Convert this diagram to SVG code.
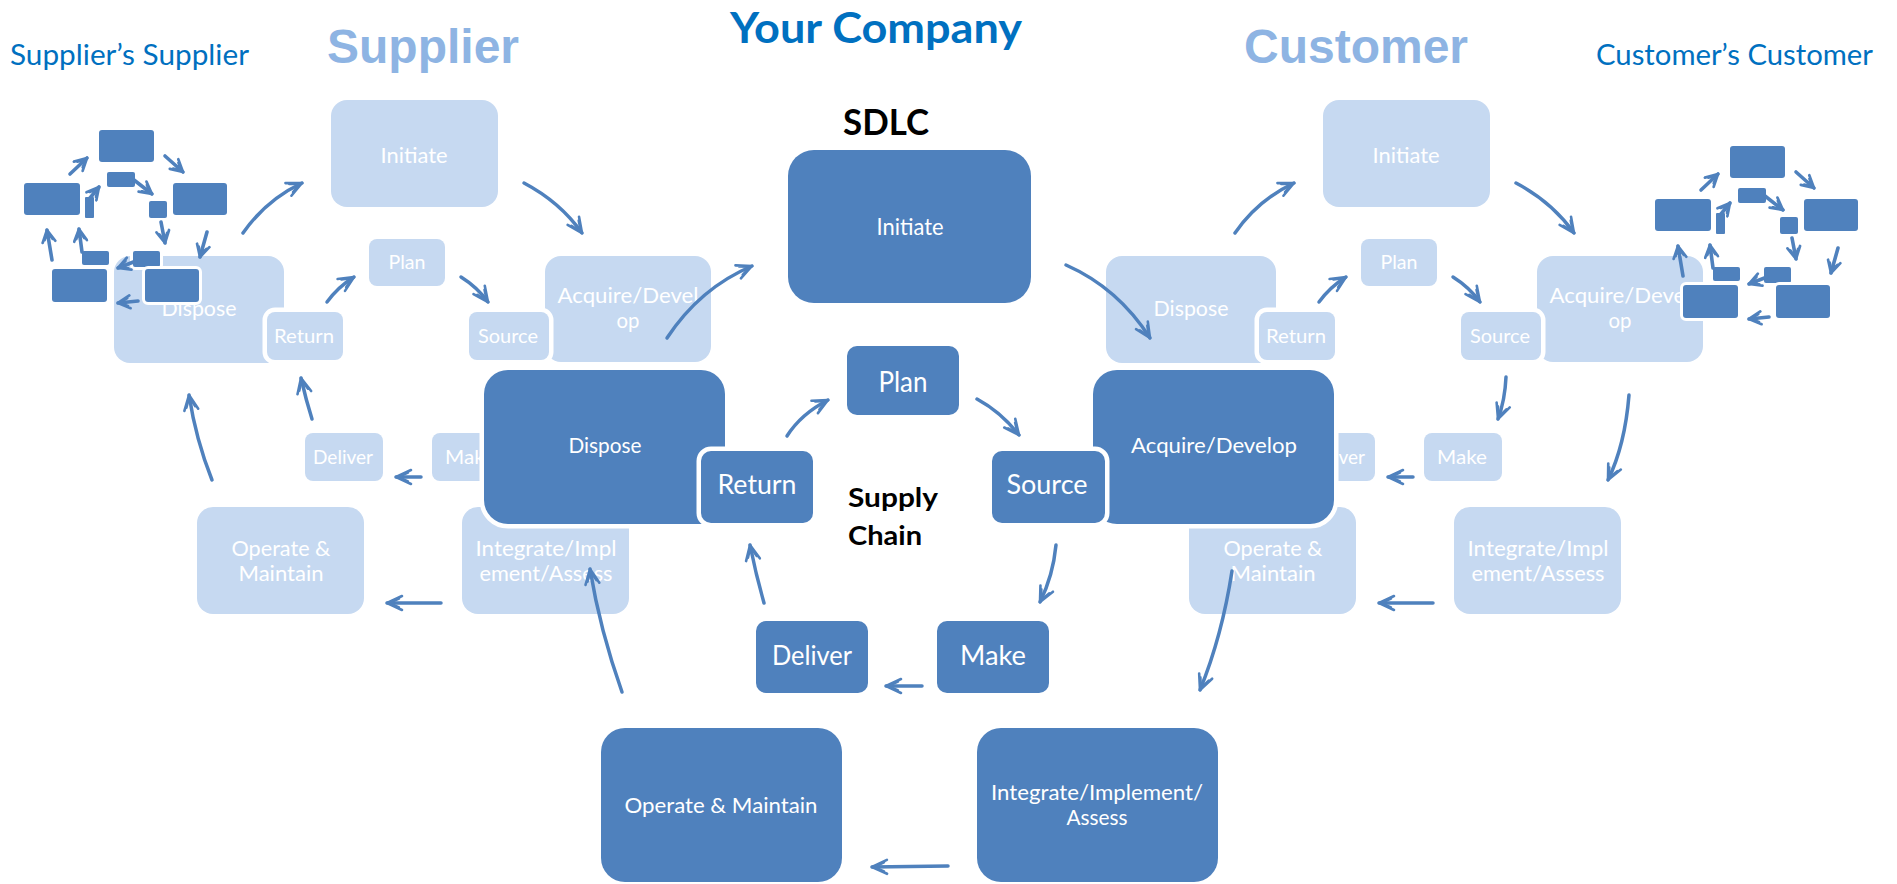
<svg xmlns="http://www.w3.org/2000/svg" xmlns:xlink="http://www.w3.org/1999/xlink" width="1897" height="884" viewBox="0 0 1897 884">
  <style>
    .node rect { stroke: #ffffff; stroke-width: 9; paint-order: stroke; }
    .dark rect { fill: #4F81BD; }
    .light rect { fill: #C6D9F1; }
    .lbl { font-family: Lato, "Open Sans", "Liberation Sans", sans-serif; fill: #ffffff; text-anchor: middle; }
    .conn path { fill: none; stroke: #4F81BD; stroke-width: 3.5; stroke-linecap: round; marker-end: url(#head); }
    .mini rect { fill: #4F81BD; stroke: #ffffff; stroke-width: 6; paint-order: stroke; }
    .mini path { fill: none; stroke: #4F81BD; stroke-width: 3.6; stroke-linecap: round; marker-end: url(#head-s); }
    .title-dark { font-family: Lato, "Open Sans", sans-serif; fill: #0070C0; }
    .title-light { font-family: "Liberation Sans", Arial, sans-serif; font-weight: 700; font-size: 48px; fill: #8EB4E3; }
    .heading { font-family: Lato, "Open Sans", sans-serif; font-weight: 700; fill: #000000; }
  </style>
  <defs>
    <marker id="head" viewBox="0 0 20 20" refX="18" refY="10" markerWidth="20" markerHeight="20" markerUnits="userSpaceOnUse" orient="auto">
      <path d="M3,3 L18,10 L3,17 M6,5.5 L16,10 L6,14.5" fill="none" stroke="#4F81BD" stroke-width="2.6" stroke-linejoin="round" stroke-linecap="round"/>
    </marker>
    <marker id="head-s" viewBox="0 0 20 20" refX="18" refY="10" markerWidth="16" markerHeight="16" markerUnits="userSpaceOnUse" orient="auto">
      <path d="M3,2 L18,10 L3,18 M6,5 L16,10 L6,15 M9,8 L15,10" fill="none" stroke="#4F81BD" stroke-width="3.4" stroke-linejoin="round" stroke-linecap="round"/>
    </marker>
    <!-- small flow network used for the outer partners -->
    <g id="mini-net" class="mini">
      <rect x="99" y="130" width="55" height="32" rx="3"/>
      <rect x="107" y="172" width="28" height="15" rx="2"/>
      <rect x="24" y="183" width="56" height="32" rx="3"/>
      <rect x="85" y="197" width="9" height="21" rx="1"/>
      <rect x="173" y="183" width="54" height="32" rx="3"/>
      <rect x="149" y="201" width="18" height="17" rx="2"/>
      <rect x="82" y="251" width="27" height="14" rx="2"/>
      <rect x="133" y="251" width="27" height="16" rx="2"/>
      <rect x="52" y="269" width="55" height="33" rx="3"/>
      <rect x="145" y="269" width="54" height="33" rx="3"/>
      <path d="M70,174 L87,158"/>
      <path d="M165,156 L183,172"/>
      <path d="M90,198 L99,187"/>
      <path d="M134,180 L152,194"/>
      <path d="M161,222 L165,243"/>
      <path d="M207,232 L200,257"/>
      <path d="M52,260 L47,230"/>
      <path d="M82,252 L79,229"/>
      <path d="M136,261 L118,268"/>
      <path d="M138,301 L118,303"/>
    </g>
  </defs>

  <rect width="1897" height="884" fill="#ffffff"/>

  <!-- titles -->
  <text class="title-dark" x="10" y="65" font-size="28" textLength="239" lengthAdjust="spacingAndGlyphs">Supplier’s Supplier</text>
  <text class="title-light" x="327" y="63">Supplier</text>
  <text class="title-dark" x="730" y="43" font-size="42" font-weight="700" textLength="292" lengthAdjust="spacingAndGlyphs">Your Company</text>
  <text class="title-light" x="1244" y="63">Customer</text>
  <text class="title-dark" x="1596" y="65" font-size="28" textLength="277" lengthAdjust="spacingAndGlyphs">Customer’s Customer</text>
  <text class="heading" x="843" y="135" font-size="37" textLength="86" lengthAdjust="spacingAndGlyphs">SDLC</text>

  <!-- supplier cycle -->
  <g id="sup-initiate" class="node light"><rect x="331" y="100" width="167" height="107" rx="16"/><text class="lbl" x="414" y="163" font-size="22" textLength="67" lengthAdjust="spacingAndGlyphs">Initiate</text></g>
  <g id="sup-plan" class="node light"><rect x="369" y="239" width="76" height="47" rx="8"/><text class="lbl" x="407" y="269" font-size="19" textLength="37" lengthAdjust="spacingAndGlyphs">Plan</text></g>
  <g id="sup-dispose" class="node light"><rect x="114" y="256" width="170" height="107" rx="16"/><text class="lbl" x="199" y="316" font-size="21" textLength="75" lengthAdjust="spacingAndGlyphs">Dispose</text></g>
  <g id="sup-return" class="node light"><rect x="267" y="312" width="76" height="48" rx="8"/><text class="lbl" x="304" y="343" font-size="20" textLength="60" lengthAdjust="spacingAndGlyphs">Return</text></g>
  <g id="sup-acquire" class="node light"><rect x="545" y="256" width="166" height="106" rx="16"/><text class="lbl" x="628" y="303" font-size="21" textLength="141" lengthAdjust="spacingAndGlyphs">Acquire/Devel</text><text class="lbl" x="628" y="328" font-size="21" textLength="23" lengthAdjust="spacingAndGlyphs">op</text></g>
  <g id="sup-source" class="node light"><rect x="469" y="312" width="80" height="48" rx="8"/><text class="lbl" x="508" y="343" font-size="20" textLength="60" lengthAdjust="spacingAndGlyphs">Source</text></g>
  <g id="sup-deliver" class="node light"><rect x="305" y="433" width="78" height="48" rx="8"/><text class="lbl" x="343" y="464" font-size="20" textLength="60" lengthAdjust="spacingAndGlyphs">Deliver</text></g>
  <g id="sup-make" class="node light"><rect x="432" y="433" width="78" height="48" rx="8"/><text class="lbl" x="470" y="464" font-size="20" textLength="50" lengthAdjust="spacingAndGlyphs">Make</text></g>
  <g id="sup-operate" class="node light"><rect x="197" y="507" width="167" height="107" rx="16"/><text class="lbl" x="281" y="556" font-size="21" textLength="99" lengthAdjust="spacingAndGlyphs">Operate &amp;</text><text class="lbl" x="281" y="581" font-size="21" textLength="85" lengthAdjust="spacingAndGlyphs">Maintain</text></g>
  <g id="sup-integrate" class="node light"><rect x="462" y="507" width="167" height="107" rx="16"/><text class="lbl" x="546" y="556" font-size="21" textLength="141" lengthAdjust="spacingAndGlyphs">Integrate/Impl</text><text class="lbl" x="546" y="581" font-size="21" textLength="133" lengthAdjust="spacingAndGlyphs">ement/Assess</text></g>

  <!-- customer cycle -->
  <g id="cus-initiate" class="node light"><rect x="1323" y="100" width="167" height="107" rx="16"/><text class="lbl" x="1406" y="163" font-size="22" textLength="67" lengthAdjust="spacingAndGlyphs">Initiate</text></g>
  <g id="cus-plan" class="node light"><rect x="1361" y="239" width="76" height="47" rx="8"/><text class="lbl" x="1399" y="269" font-size="19" textLength="37" lengthAdjust="spacingAndGlyphs">Plan</text></g>
  <g id="cus-dispose" class="node light"><rect x="1106" y="256" width="170" height="107" rx="16"/><text class="lbl" x="1191" y="316" font-size="21" textLength="75" lengthAdjust="spacingAndGlyphs">Dispose</text></g>
  <g id="cus-return" class="node light"><rect x="1259" y="312" width="76" height="48" rx="8"/><text class="lbl" x="1296" y="343" font-size="20" textLength="60" lengthAdjust="spacingAndGlyphs">Return</text></g>
  <g id="cus-acquire" class="node light"><rect x="1537" y="256" width="166" height="106" rx="16"/><text class="lbl" x="1620" y="303" font-size="21" textLength="141" lengthAdjust="spacingAndGlyphs">Acquire/Devel</text><text class="lbl" x="1620" y="328" font-size="21" textLength="23" lengthAdjust="spacingAndGlyphs">op</text></g>
  <g id="cus-source" class="node light"><rect x="1461" y="312" width="80" height="48" rx="8"/><text class="lbl" x="1500" y="343" font-size="20" textLength="60" lengthAdjust="spacingAndGlyphs">Source</text></g>
  <g id="cus-deliver" class="node light"><rect x="1297" y="433" width="78" height="48" rx="8"/><text class="lbl" x="1335" y="464" font-size="20" textLength="60" lengthAdjust="spacingAndGlyphs">Deliver</text></g>
  <g id="cus-make" class="node light"><rect x="1424" y="433" width="78" height="48" rx="8"/><text class="lbl" x="1462" y="464" font-size="20" textLength="50" lengthAdjust="spacingAndGlyphs">Make</text></g>
  <g id="cus-operate" class="node light"><rect x="1189" y="507" width="167" height="107" rx="16"/><text class="lbl" x="1273" y="556" font-size="21" textLength="99" lengthAdjust="spacingAndGlyphs">Operate &amp;</text><text class="lbl" x="1273" y="581" font-size="21" textLength="85" lengthAdjust="spacingAndGlyphs">Maintain</text></g>
  <g id="cus-integrate" class="node light"><rect x="1454" y="507" width="167" height="107" rx="16"/><text class="lbl" x="1538" y="556" font-size="21" textLength="141" lengthAdjust="spacingAndGlyphs">Integrate/Impl</text><text class="lbl" x="1538" y="581" font-size="21" textLength="133" lengthAdjust="spacingAndGlyphs">ement/Assess</text></g>

  <!-- outer partner networks -->
  <use id="suppliers-supplier-net" xlink:href="#mini-net" href="#mini-net"/>
  <use id="customers-customer-net" xlink:href="#mini-net" href="#mini-net" transform="translate(1631,16)"/>

  <!-- company cycle -->
  <g id="co-initiate" class="node dark"><rect x="788" y="150" width="243" height="153" rx="26"/><text class="lbl" x="910" y="235" font-size="23" textLength="67" lengthAdjust="spacingAndGlyphs">Initiate</text></g>
  <g id="co-plan" class="node dark"><rect x="847" y="346" width="112" height="69" rx="10"/><text class="lbl" x="903" y="392" font-size="28" textLength="49" lengthAdjust="spacingAndGlyphs">Plan</text></g>
  <g id="co-dispose" class="node dark"><rect x="484" y="370" width="241" height="154" rx="24"/><text class="lbl" x="605" y="453" font-size="21" textLength="73" lengthAdjust="spacingAndGlyphs">Dispose</text></g>
  <g id="co-acquire" class="node dark"><rect x="1093" y="370" width="241" height="154" rx="24"/><text class="lbl" x="1214" y="453" font-size="21" textLength="166" lengthAdjust="spacingAndGlyphs">Acquire/Develop</text></g>
  <g id="co-return" class="node dark"><rect x="701" y="451" width="112" height="72" rx="10"/><text class="lbl" x="757" y="494" font-size="27" textLength="79" lengthAdjust="spacingAndGlyphs">Return</text></g>
  <g id="co-source" class="node dark"><rect x="992" y="451" width="113" height="72" rx="10"/><text class="lbl" x="1047" y="494" font-size="27" textLength="81" lengthAdjust="spacingAndGlyphs">Source</text></g>
  <g id="co-deliver" class="node dark"><rect x="756" y="621" width="112" height="72" rx="10"/><text class="lbl" x="812" y="665" font-size="26" textLength="80" lengthAdjust="spacingAndGlyphs">Deliver</text></g>
  <g id="co-make" class="node dark"><rect x="937" y="621" width="112" height="72" rx="10"/><text class="lbl" x="993" y="665" font-size="26" textLength="66" lengthAdjust="spacingAndGlyphs">Make</text></g>
  <g id="co-operate" class="node dark"><rect x="601" y="728" width="241" height="154" rx="24"/><text class="lbl" x="721" y="813" font-size="21" textLength="193" lengthAdjust="spacingAndGlyphs">Operate &amp; Maintain</text></g>
  <g id="co-integrate" class="node dark"><rect x="977" y="728" width="241" height="154" rx="24"/><text class="lbl" x="1097" y="800" font-size="22" textLength="212" lengthAdjust="spacingAndGlyphs">Integrate/Implement/</text><text class="lbl" x="1097" y="825" font-size="22" textLength="61" lengthAdjust="spacingAndGlyphs">Assess</text></g>

  <text class="heading" x="848" y="507" font-size="27" textLength="90" lengthAdjust="spacingAndGlyphs">Supply</text>
  <text class="heading" x="848" y="545" font-size="27" textLength="74" lengthAdjust="spacingAndGlyphs">Chain</text>

  <!-- connectors -->
  <g id="connectors" class="conn">
    <!-- company -->
    <path d="M667,338 Q700,288 752,266"/>
    <path d="M1066,265 Q1118,288 1150,338"/>
    <path d="M787,436 Q801,414 828,400"/>
    <path d="M977,399 Q1001,412 1019,435"/>
    <path d="M1056,545 Q1053,576 1040,602"/>
    <path d="M922,686 L886,686"/>
    <path d="M764,603 Q756,575 750,545"/>
    <path d="M948,866 L872,867"/>
    <path d="M622,692 Q600,630 590,569"/>
    <path d="M1232,571 Q1222,636 1200,690"/>
    <!-- supplier -->
    <path d="M243,233 Q266,200 302,183"/>
    <path d="M524,183 Q560,202 582,233"/>
    <path d="M327,302 Q338,287 354,277"/>
    <path d="M461,277 Q477,287 488,302"/>
    <path d="M312,419 Q306,400 301,378"/>
    <path d="M421,477 L396,477"/>
    <path d="M441,603 L387,603"/>
    <path d="M212,480 Q196,440 189,395"/>
    <!-- customer -->
    <path d="M1235,233 Q1258,200 1294,183"/>
    <path d="M1516,183 Q1552,202 1574,233"/>
    <path d="M1319,302 Q1330,287 1346,277"/>
    <path d="M1453,277 Q1469,287 1480,302"/>
    <path d="M1506,377 Q1505,400 1498,419"/>
    <path d="M1413,477 L1388,477"/>
    <path d="M1629,395 Q1625,445 1608,480"/>
    <path d="M1433,603 L1379,603"/>
  </g>
</svg>
